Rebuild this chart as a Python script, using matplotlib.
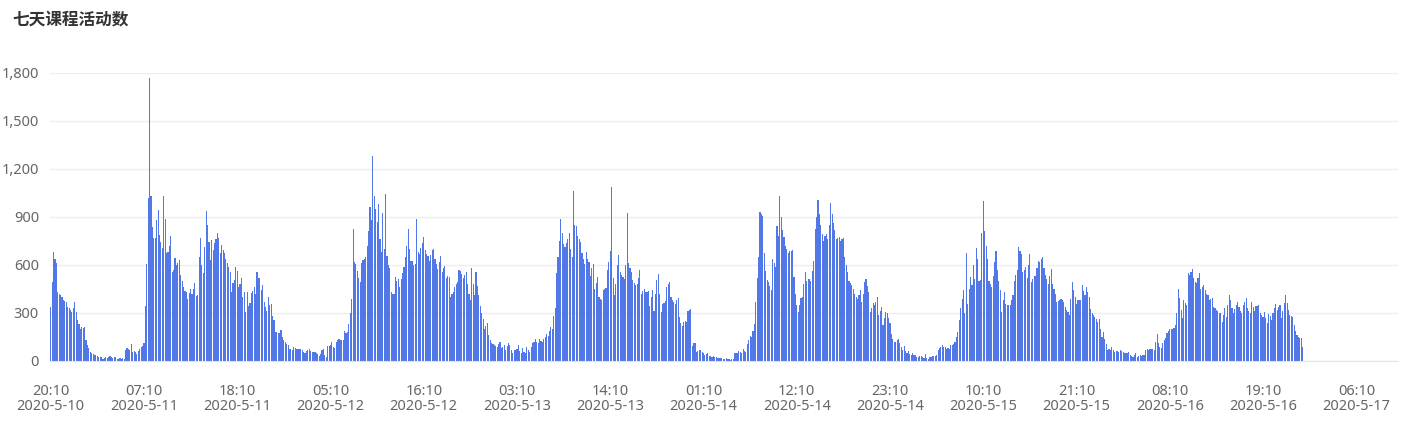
import matplotlib
matplotlib.use('Agg')
import matplotlib.pyplot as plt
import numpy as np
import pandas as pd
from matplotlib.ticker import FuncFormatter

plt.rcParams['font.family'] = ['Noto Sans', 'Noto Sans CJK SC', 'DejaVu Sans']

title = '七天课程活动数'
start_time = '2020-05-10 20:10'
slot_freq = '10min'
n_slots = 954
label_every = 66
yticks = [0, 300, 600, 900, 1200, 1500, 1800]

# 10-minute activity counts
seg_a = [340, 495, 680, 640, 612, 433, 420, 412, 402, 381, 375, 370, 340, 330, 320, 308, 330, 370, 308, 256,
         230, 200, 210, 204, 210, 131, 100,
         79, 58, 48, 45, 40, 38, 30, 28, 25, 22, 15, 20, 25, 18, 22, 30, 25, 20, 25, 22, 15, 12, 17, 14, 17,
         12, 70, 80, 75, 70, 105, 55, 60, 55, 45, 60, 75, 85, 95, 110]
seg_b = [344, 606, 1017, 1766, 1031, 840, 767, 767, 880, 944, 787, 746, 704, 1031, 885, 677, 683, 720, 781, 558,
         569, 642, 600, 615, 631, 538, 500, 465, 440, 433, 385, 423, 448, 420, 448, 490, 406, 413, 652, 767,
         600, 548, 715, 940, 850, 746, 631, 756, 694, 735, 760, 798, 767, 673, 725, 694, 673, 635, 610, 585,
         558, 433, 490, 506, 585, 565, 460, 480, 517, 402, 433, 308, 433, 344, 365, 423, 440, 465, 419, 558,
         517, 517, 444, 475, 371, 340, 315, 402, 350, 356, 281, 256, 183, 183, 178]
seg_c = [175, 191, 150, 133, 119, 105, 98, 77, 72, 71, 87, 80, 77, 73, 75, 77, 67, 58, 50, 62,
         70, 75, 62, 58, 54, 54, 50, 46, 29, 45, 67, 75, 40, 25, 92, 96, 98, 117, 90, 83,
         119, 130, 139, 133, 130, 129, 187, 175, 181, 233, 300, 389, 826, 620, 607, 562, 520, 493, 612, 630,
         639, 649, 720, 811, 961, 880, 1283, 1034, 950, 867, 982, 760, 680, 923, 700, 1044, 659, 600, 582, 431,
         420, 416, 524, 500, 514, 462, 510, 549, 587, 650, 716, 826, 700, 628, 624, 600, 607, 890, 680, 670,
         707, 740, 774, 691, 670, 659, 624, 660, 695, 701, 640, 607, 576, 620, 659, 555, 580, 591, 520, 530,
         524, 403, 420, 431, 462, 480, 493, 570, 560, 545, 520, 540, 555, 483, 420]
seg_d = [379, 582, 480, 414, 555, 470, 410, 342, 300, 265, 203, 220, 238, 161, 130, 110, 106, 98, 93, 89,
         105, 120, 79, 90, 99, 68, 95, 114, 99, 70, 52, 68, 70, 72, 99, 60, 52, 79, 55, 48,
         89, 70, 58, 89, 110, 120, 135, 120, 114, 135, 125, 120, 135, 150, 168, 155, 190, 213, 203, 280,
         333, 549, 650, 751, 886, 800, 731, 710, 740, 762, 803, 700, 648, 1062, 850, 845, 782, 760, 741, 673,
         640, 607, 679, 640, 617, 534, 580, 607, 451, 490, 524, 400, 390, 379, 441, 450, 457, 569, 620, 689,
         1087, 520, 410, 482, 600, 664, 555, 540, 524, 513, 600, 923, 611, 580, 555, 507, 490, 472, 482, 520,
         569, 420, 440, 451, 430, 432, 435, 342, 400, 445, 313, 420, 509, 544, 420, 306, 358, 365, 375, 462,
         480, 493, 400, 380, 368, 358, 380, 395, 275, 240]
seg_e = [217, 244, 250, 244, 313, 320, 327, 95, 110, 114, 58, 62, 68, 68, 55, 48, 37, 45, 52, 31,
         29, 27, 31, 25, 23, 17, 20, 21, 17, 14, 12, 17, 15, 12, 6, 10, 12, 48, 50, 52,
         64, 58, 52, 72, 65, 58, 106, 130, 155, 147, 190, 234, 368, 520, 648, 934, 920, 907, 673, 560,
         507, 493, 470, 441, 638, 610, 590, 845, 780, 1031, 900, 820, 776, 720, 700, 673, 689, 690, 693, 528,
         420, 348, 306, 350, 395, 400, 480, 555, 503, 510, 513, 499, 560, 627, 824, 900, 1004, 917, 850, 793,
         751, 780, 793, 762, 850, 989, 921, 860, 818, 762, 770, 776, 751, 760, 770, 648, 600, 555, 499, 490,
         478, 451, 420, 400, 389, 410, 441, 368, 420, 493, 513, 470, 430, 306, 330, 362, 348, 370, 400, 286,
         310, 337, 224, 270, 306, 300, 270, 237, 171, 140]
seg_f = [119, 119, 130, 139, 112, 90, 71, 92, 60, 50, 62, 45, 35, 50, 40, 35, 25, 28, 29, 29,
         24, 21, 42, 20, 15, 25, 28, 31, 29, 32, 35, 71, 80, 87, 98, 90, 87, 77, 80, 77,
         98, 100, 108, 119, 150, 181, 254, 330, 389, 441, 300, 674, 358, 450, 528, 472, 600, 514, 707, 640,
         503, 507, 800, 1002, 811, 720, 638, 503, 480, 462, 534, 620, 690, 566, 500, 441, 306, 380, 430, 358,
         350, 347, 347, 380, 410, 503, 540, 566, 711, 690, 670, 555, 570, 587, 520, 600, 670, 493, 510, 534,
         534, 580, 628, 618, 640, 649, 582, 540, 514, 483, 530, 576, 483, 450, 420, 368, 375, 379, 389, 380,
         368, 337, 320, 306, 285, 390, 493, 441, 400, 358, 379, 380, 379, 472, 440, 410, 462, 430, 399, 327,
         300, 285, 275, 260]
seg_g = [243, 264, 200, 150, 183, 140, 106, 69, 72, 69, 85, 70, 58, 64, 60, 58, 69, 62, 58, 52,
         50, 48, 58, 40, 31, 23, 40, 52, 27, 30, 37, 31, 35, 37, 69, 72, 69, 77, 75, 73,
         69, 120, 166, 114, 90, 79, 110, 130, 144, 173, 190, 198, 198, 200, 204, 225, 300, 453, 391, 320,
         266, 381, 360, 349, 547, 540, 557, 578, 520, 495, 485, 520, 551, 447, 460, 474, 443, 420, 412, 381,
         385, 391, 339, 330, 318, 314, 300, 297, 245, 290, 329, 277, 350, 412, 381, 330, 297, 322, 350, 370,
         339, 310, 297, 349, 370, 391, 329, 310, 297, 370, 340, 314, 343, 345, 349, 302, 290, 277, 308, 270,
         239, 293, 280, 256, 302, 330, 356, 318, 335, 349, 266, 310, 360, 412, 360, 318, 287, 280, 277, 225,
         190, 162, 152, 145, 141, 89]

values = seg_a + seg_b + seg_c + seg_d + seg_e + seg_f + seg_g

times = pd.date_range(start_time, periods=n_slots, freq=slot_freq)
slot_labels = [f"{t.hour:02d}:{t.minute:02d}\n{t.year}-{t.month}-{t.day}" for t in times]

W, H = 1408, 428
fig = plt.figure(figsize=(W / 100, H / 100), dpi=100)
ax = fig.add_axes([50 / W, 67 / H, 1348 / W, 288 / H])

ax.bar(np.arange(len(values)), values, width=0.8, color='#5178e6', linewidth=0, zorder=2)
ax.set_xlim(-0.5, n_slots - 0.5)
ax.set_ylim(0, 1800)
ax.set_yticks(yticks)
ax.yaxis.set_major_formatter(FuncFormatter(lambda v, p: f"{int(v):,}"))
ax.grid(axis='y', color='#eeeeee', lw=1, zorder=0)
ax.grid(axis='x', visible=False)
ax.set_axisbelow(True)
for s in ['top', 'right', 'left']:
    ax.spines[s].set_visible(False)
ax.spines['bottom'].set_color('#e3e3e3')
ax.tick_params(axis='y', length=0, pad=8, labelcolor='#666666', labelsize=10.5)

tick_pos = list(range(0, n_slots, label_every))
ax.set_xticks(tick_pos)
ax.set_xticklabels([slot_labels[i] for i in tick_pos])
ax.tick_params(axis='x', length=0, pad=16.5, labelcolor='#666666', labelsize=10.5)
for lab in ax.get_xticklabels():
    lab.set_linespacing(1.0)

fig.text(12 / W, 1 - 20 / H, title, fontsize=12, fontweight='bold', color='#333333',
         va='center', ha='left', family=['Noto Sans CJK SC', 'DejaVu Sans'])

fig.savefig('out.png', dpi=100)
